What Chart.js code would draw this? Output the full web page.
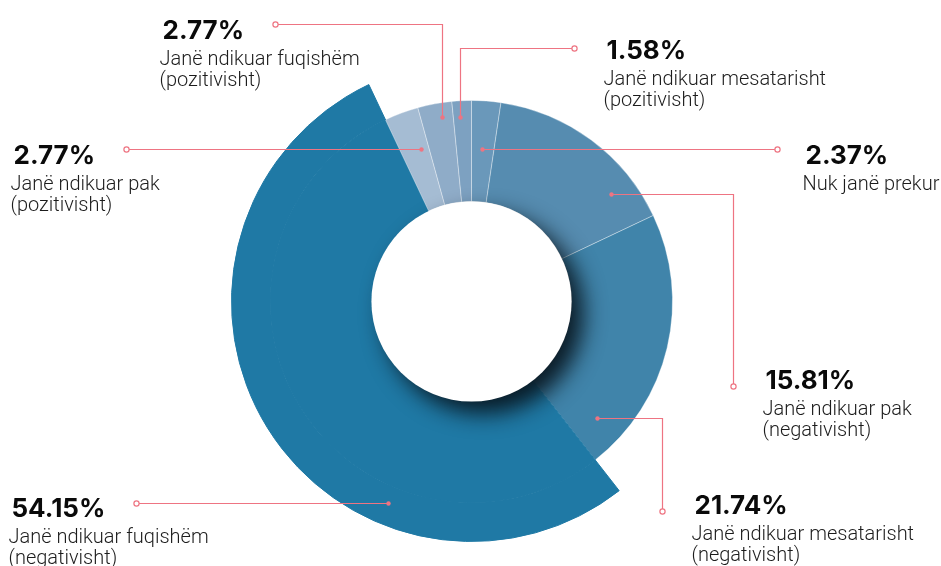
<!DOCTYPE html>
<html>
<head>
<meta charset="utf-8">
<script src="https://cdn.jsdelivr.net/npm/chart.js@4.4.1/dist/chart.umd.min.js"></script>
<style>
    html, body { margin: 0; padding: 0; background: #fff; }
    #contenedor { width: 941px; height: 566px; position: relative; }
</style>
</head>
<body>
<div id="contenedor"><canvas id="miGrafica"></canvas></div>
<script>
// Datos del gráfico (en orden horario desde arriba)
const categorias = [
    'Nuk janë prekur',
    'Janë ndikuar pak (negativisht)',
    'Janë ndikuar mesatarisht (negativisht)',
    'Janë ndikuar fuqishëm (negativisht)',
    'Janë ndikuar pak (pozitivisht)',
    'Janë ndikuar fuqishëm (pozitivisht)',
    'Janë ndikuar mesatarisht (pozitivisht)'
];
const porcentajes = [2.37, 15.81, 21.74, 54.15, 2.77, 2.77, 1.58];
const etiquetasValor = ['2.37%', '15.81%', '21.74%', '54.15%', '2.77%', '2.77%', '1.58%'];
const lineasTexto = [
    ['Nuk janë prekur'],
    ['Janë ndikuar pak', '(negativisht)'],
    ['Janë ndikuar mesatarisht', '(negativisht)'],
    ['Janë ndikuar fuqishëm', '(negativisht)'],
    ['Janë ndikuar pak', '(pozitivisht)'],
    ['Janë ndikuar fuqishëm', '(pozitivisht)'],
    ['Janë ndikuar mesatarisht', '(pozitivisht)']
];
const colores = ['#6a98ba', '#568cb0', '#4084aa', '#1f79a5', '#a5bcd3', '#8facc8', '#7da1c1'];
const destacado = 3; // la porción más grande sobresale del anillo

// Posición de las llamadas respecto al centro (punto, codo opcional, extremo, texto)
const llamadas = [
    { punto: [11, -152], codo: null, fin: [306, -152], texto: [331, -138] },
    { punto: [140, -107], codo: [262, -107], fin: [262, 85], texto: [291, 87] },
    { punto: [126, 117], codo: [191, 117], fin: [191, 210], texto: [220, 212] },
    { punto: [-83, 202], codo: null, fin: [-335, 202], texto: [-463, 215] },
    { punto: [-50, -152], codo: null, fin: [-345, -152], texto: [-461, -138] },
    { punto: [-29, -184], codo: [-29, -277], fin: [-196, -277], texto: [-312, -263] },
    { punto: [-11, -184], codo: [-11, -253], fin: [103, -253], texto: [132, -243] }
];

// Sombra del círculo central
const sombraCentro = {
    id: 'sombraCentro',
    afterDatasetsDraw(chart) {
        const arco = chart.getDatasetMeta(1).data[0];
        const ctx = chart.ctx;
        ctx.save();
        ctx.beginPath();
        ctx.arc(arco.x, arco.y, arco.innerRadius, 0, Math.PI * 2);
        ctx.shadowColor = 'rgba(8, 22, 32, 0.95)';
        ctx.shadowBlur = 22;
        ctx.shadowOffsetX = 12;
        ctx.shadowOffsetY = 12;
        ctx.fillStyle = '#fff';
        ctx.fill();
        ctx.restore();
    }
};

// Líneas guía y textos
const rotulos = {
    id: 'rotulos',
    afterDraw(chart) {
        const arco = chart.getDatasetMeta(1).data[0];
        const cx = arco.x, cy = arco.y;
        const ctx = chart.ctx;
        ctx.save();
        llamadas.forEach((ll, i) => {
            const p = [cx + ll.punto[0], cy + ll.punto[1]];
            const f = [cx + ll.fin[0], cy + ll.fin[1]];
            ctx.strokeStyle = '#ee7482';
            ctx.lineWidth = 1.2;
            ctx.beginPath();
            ctx.moveTo(p[0], p[1]);
            if (ll.codo) ctx.lineTo(cx + ll.codo[0], cy + ll.codo[1]);
            ctx.lineTo(f[0], f[1]);
            ctx.stroke();
            // punto lleno dentro de la porción
            ctx.fillStyle = '#ee7482';
            ctx.beginPath();
            ctx.arc(p[0], p[1], 2.2, 0, Math.PI * 2);
            ctx.fill();
            // círculo abierto al final
            ctx.fillStyle = '#fff';
            ctx.beginPath();
            ctx.arc(f[0], f[1], 2.6, 0, Math.PI * 2);
            ctx.fill();
            ctx.stroke();

            const tx = cx + ll.texto[0], ty = cy + ll.texto[1];
            ctx.textBaseline = 'alphabetic';
            ctx.textAlign = 'left';
            ctx.fillStyle = '#0a0a0a';
            ctx.font = 'bold 26px Inter';
            ctx.fillText(etiquetasValor[i], tx + 3, ty);
            ctx.fillStyle = '#1c1c1c';
            ctx.font = '300 20px Roboto';
            lineasTexto[i].forEach((linea, j) => {
                ctx.fillText(linea, tx, ty + 26 + j * 21);
            });
        });
        ctx.restore();
    }
};

const $grafica = document.getElementById('miGrafica').getContext('2d');

let miGrafica = new Chart($grafica, {
    type: 'doughnut',
    data: {
        labels: categorias,
        datasets: [
            {
                // banda exterior: solo la porción destacada
                data: porcentajes,
                backgroundColor: colores.map((c, i) => i === destacado ? c : 'rgba(0,0,0,0)'),
                borderColor: colores,
                borderWidth: porcentajes.map((v, i) => i === destacado ? 1 : 0),
                weight: 39
            },
            {
                data: porcentajes,
                backgroundColor: colores,
                borderColor: colores.map((c, i) => i === destacado ? c : 'rgba(255,255,255,0.35)'),
                borderWidth: 1,
                weight: 101
            }
        ]
    },
    options: {
        responsive: true,
        maintainAspectRatio: false,
        animation: false,
        cutout: '41.7%',
        hoverOffset: 0,
        layout: { padding: { left: 231, right: 229, top: 61, bottom: 24 } },
        plugins: {
            legend: { display: false },
            tooltip: { enabled: false }
        },
        events: []
    },
    plugins: [sombraCentro, rotulos]
});
</script>
</body>
</html>
